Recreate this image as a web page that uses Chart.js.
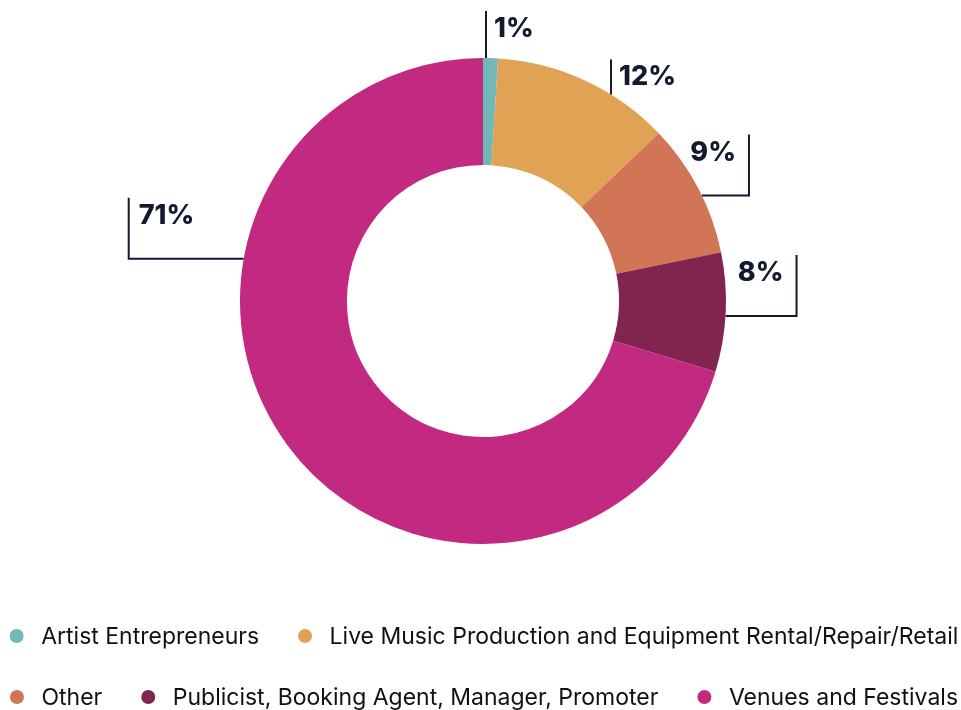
<!DOCTYPE html>
<html>
<head>
<meta charset="utf-8">
<script src="https://cdn.jsdelivr.net/npm/chart.js@4.4.1/dist/chart.umd.min.js"></script>
<style>
  html, body { margin: 0; padding: 0; background: #fff; overflow: hidden; }
  #wrap { width: 961px; height: 710px; position: relative; }
</style>
</head>
<body>
<div id="wrap"><canvas id="sectorChart"></canvas></div>
<script>
const categories = [
    "Artist Entrepreneurs",
    "Live Music Production and Equipment Rental/Repair/Retail",
    "Other",
    "Publicist, Booking Agent, Manager, Promoter",
    "Venues and Festivals"
];
const shares = [1, 12, 9, 8, 71];
const sliceColors = ["#72b8b6", "#e0a255", "#d27556", "#822450", "#c22980"];

// callout layout for each slice: where on the rim the leader starts (fraction of the slice),
// how far it runs sideways (dx) and then upward (rise)
const callouts = [
    { at: 0.2, dx: 0, rise: 47 },
    { at: 0.66, dx: 0, rise: 35 },
    { at: 0.56, dx: 47, rise: 61 },
    { at: 0.53, dx: 71, rise: 61 },
    { at: 0.684, dx: -115, rise: 61 }
];

const inkColor = "#111a2e";

const calloutPlugin = {
    id: "calloutLabels",
    afterDatasetsDraw(chart) {
        const ctx = chart.ctx;
        const arcs = chart.getDatasetMeta(0).data;
        ctx.save();
        ctx.strokeStyle = inkColor;
        ctx.fillStyle = inkColor;
        ctx.lineWidth = 2;
        ctx.font = "800 27px Inter";
        ctx.textBaseline = "alphabetic";
        arcs.forEach((arc, i) => {
            const c = callouts[i];
            const a = arc.startAngle + c.at * (arc.endAngle - arc.startAngle);
            const x0 = arc.x + arc.outerRadius * Math.cos(a);
            const y0 = arc.y + arc.outerRadius * Math.sin(a);
            const cx = x0 + c.dx;
            const top = y0 - c.rise;
            ctx.beginPath();
            ctx.moveTo(x0, y0);
            ctx.lineTo(cx, y0);
            ctx.lineTo(cx, top);
            ctx.stroke();
            const text = shares[i] + "%";
            const baseline = top + 26;
            if (c.dx > 0) {
                ctx.textAlign = "right";
                ctx.fillText(text, cx - 13, baseline);
            } else {
                ctx.textAlign = "left";
                ctx.fillText(text, cx + (c.dx < 0 ? 10 : 8), baseline);
            }
        });
        ctx.restore();
    }
};

// legend drawn by hand so the rows wrap the same way at this width
const legendPlugin = {
    id: "rowLegend",
    afterDraw(chart) {
        const ctx = chart.ctx;
        const fontSize = 23;
        const dot = 7;
        const textGap = 24.5;
        const itemGap = 46;
        const rowY = [636, 697];
        const maxRow = chart.width - 8;
        ctx.save();
        ctx.font = fontSize + "px Inter";
        ctx.textBaseline = "middle";
        ctx.textAlign = "left";

        const items = categories.map((label, i) => ({
            label, color: sliceColors[i],
            width: textGap + ctx.measureText(label).width
        }));
        const rows = [[]];
        let used = dot;
        items.forEach(item => {
            const row = rows[rows.length - 1];
            const extra = (row.length ? itemGap : 0) + item.width;
            if (row.length && used + extra > maxRow) {
                rows.push([item]);
                used = dot + item.width;
            } else {
                row.push(item);
                used += extra;
            }
        });

        rows.forEach((row, r) => {
            const total = dot + row.reduce((s, it) => s + it.width, 0) + itemGap * (row.length - 1);
            let x = 484 - total / 2 + dot;
            const y = rowY[r];
            row.forEach(it => {
                ctx.fillStyle = it.color;
                ctx.beginPath();
                ctx.arc(x, y, dot, 0, Math.PI * 2);
                ctx.fill();
                ctx.fillStyle = "#111";
                ctx.fillText(it.label, x + textGap, y + 1);
                x += it.width + itemGap;
            });
        });
        ctx.restore();
    }
};

new Chart(document.getElementById("sectorChart"), {
    type: "doughnut",
    data: {
        labels: categories,
        datasets: [{
            data: shares,
            backgroundColor: sliceColors,
            borderWidth: 0
        }]
    },
    options: {
        responsive: true,
        maintainAspectRatio: false,
        animation: false,
        cutout: "56%",
        layout: { padding: { top: 58, left: 5, right: 0, bottom: 166 } },
        plugins: {
            tooltip: { enabled: false },
            legend: { display: false }
        }
    },
    plugins: [calloutPlugin, legendPlugin]
});
</script>
</body>
</html>
